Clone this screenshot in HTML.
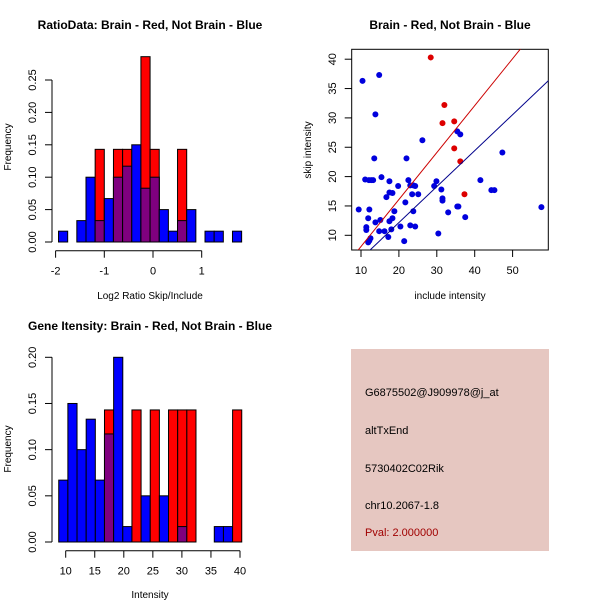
<!DOCTYPE html>
<html><head><meta charset="utf-8"><style>
html,body{margin:0;padding:0;background:#fff;width:600px;height:600px;overflow:hidden}
text{font-family:"Liberation Sans",sans-serif}
</style></head><body>
<svg id="chart" width="600" height="600" xmlns="http://www.w3.org/2000/svg">
<rect x="351" y="349" width="198" height="202" fill="#e6c7c1"/>
<text x="365" y="396" font-size="11">G6875502@J909978@j_at</text>
<text x="365" y="434" font-size="11">altTxEnd</text>
<text x="365" y="472" font-size="11">5730402C02Rik</text>
<text x="365" y="509" font-size="11">chr10.2067-1.8</text>
<text x="365" y="536" font-size="11" fill="#a00000">Pval: 2.000000</text>
</svg>
<script>
// Ratio histogram data
const ratioBlue=[0.0167,0,0.033,0.1,0.033,0.067,0.1,0.117,0.15,0.083,0.1,0.05,0.0167,0.033,0.05,0,0.0167,0.0167,0,0.0167];
const ratioRed=[0,0,0,0,0.143,0,0.143,0.143,0,0.286,0.143,0,0,0.143,0,0,0,0,0,0];
const ratioXTicks=[-2,-1,0,1];
const ratioYTicks=[0,0.05,0.1,0.15,0.2,0.25];
// Intensity histogram data
const intBlue=[0.067,0.15,0.1,0.133,0.067,0.117,0.2,0.0167,0,0.05,0,0.05,0,0.0167,0,0,0,0.0167,0.0167,0];
const intRed=[0,0,0,0,0,0.143,0,0,0.143,0,0.143,0,0.143,0.143,0.143,0,0,0,0,0.143];
const intXTicks=[10,15,20,25,30,35,40];
const intYTicks=[0,0.05,0.1,0.15,0.2];
// Scatter data
const redX=[28.4,32.0,31.5,34.6,34.6,36.2,37.3];
const redY=[40.3,32.2,29.1,29.4,24.8,22.6,17.0];
const blueX=[10.4,14.8,13.8,13.5,11.1,12.1,12.7,13.2,15.4,9.4,12.2,11.9,11.4,11.4,11.9,12.2,12.5,13.8,15.1,14.8,16.2,17.2,17.5,18.3,18.0,18.8,17.5,17.5,18.3,16.7,19.8,20.4,21.4,21.7,22.0,22.5,23.0,23.8,24.3,23.5,25.1,23.8,23.0,24.3,26.2,29.3,29.9,30.4,31.2,31.5,31.5,33.0,35.4,36.2,35.4,35.7,37.5,41.5,44.4,45.2,47.3,57.6];
const blueY=[36.3,37.3,30.6,23.1,19.5,19.4,19.4,19.4,19.9,14.4,14.4,12.9,11.4,10.9,8.8,9.1,9.5,12.2,12.6,10.7,10.7,9.7,12.4,12.9,11.0,14.1,19.2,17.3,17.2,16.5,18.4,11.5,9.0,15.6,23.1,19.4,18.5,18.5,18.4,17.0,17.0,14.1,11.7,11.5,26.2,18.4,19.2,10.3,17.8,16.3,15.9,13.9,27.7,27.2,14.9,14.9,13.1,19.4,17.7,17.7,24.1,14.8];
const scXTicks=[10,20,30,40,50];
const scYTicks=[10,15,20,25,30,35,40];
const redSlope=0.8, redIntercept=0.09, blueSlope=0.613, blueIntercept=-0.1;

const svg=document.getElementById('chart');
const NS='http://www.w3.org/2000/svg';
function mk(tag,at,txt){const e=document.createElementNS(NS,tag);for(const k in at)e.setAttribute(k,at[k]);if(txt!==undefined)e.textContent=txt;svg.appendChild(e);return e;}

function hist(o){
  const sx=v=>o.x0px+(v-o.x0)*o.kx, sy=v=>o.base-v*o.ky;
  const binW=o.binW;
  o.blue.forEach((b,i)=>{
    const r=o.red[i];const xl=sx(o.start+i*binW), w=binW*o.kx;
    if(b>0){const e=mk('rect',{x:xl,y:sy(b),width:w,height:b*o.ky,fill:'#0000ff',stroke:'#000','stroke-width':1});
      
      }
    if(r>0){const e=mk('rect',{x:xl,y:sy(r),width:w,height:r*o.ky,fill:'#ff0000',stroke:'#000','stroke-width':1});
      
      }
    const m=Math.min(b,r);
    if(m>0){const e=mk('rect',{x:xl,y:sy(m),width:w,height:m*o.ky,fill:'#7f007f',stroke:'#000','stroke-width':1});
      
      }
  });
  // y axis
  const ya=mk('line',{x1:o.yax,x2:o.yax,y1:sy(o.yt[0]),y2:sy(o.yt[o.yt.length-1]),stroke:'#000'});
  
  
  o.yt.forEach(t=>{mk('line',{x1:o.yax-7,x2:o.yax,y1:sy(t),y2:sy(t),stroke:'#000'});
    const tx=mk('text',{x:36,y:sy(t),'font-size':11,'text-anchor':'middle',transform:`rotate(-90 36 ${sy(t)})`},t.toFixed(2));
    
    });
  const xa=mk('line',{x1:sx(o.xt[0]),x2:sx(o.xt[o.xt.length-1]),y1:o.xay,y2:o.xay,stroke:'#000'});
  
  
  o.xt.forEach(t=>{mk('line',{x1:sx(t),x2:sx(t),y1:o.xay,y2:o.xay+7,stroke:'#000'});
    const tx=mk('text',{x:sx(t),y:o.xay+24,'font-size':11,'text-anchor':'middle'},String(t));
    
    });
}
hist({blue:ratioBlue,red:ratioRed,start:-1.94,binW:0.188,x0:0,x0px:153,kx:48.7,base:242,ky:648,yt:ratioYTicks,xt:ratioXTicks,yax:52,xay:250.7});
hist({blue:intBlue,red:intRed,start:8.8,binW:1.575,x0:10,x0px:65.7,kx:5.81,base:542,ky:923.5,yt:intYTicks,xt:intXTicks,yax:52,xay:550.7});

// scatter
const X=v=>361+(v-10)*3.79, Y=v=>235.3-(v-10)*5.87;
const bx=mk('rect',{x:351.7,y:49.3,width:196.6,height:200.7,fill:'none',stroke:'#000'});


mk('clipPath',{id:'cp'}).appendChild(Object.assign(document.createElementNS(NS,'rect'),{}));
const cp=svg.querySelector('#cp rect');cp.setAttribute('x',351.7);cp.setAttribute('y',49.3);cp.setAttribute('width',196.6);cp.setAttribute('height',200.7);
blueX.forEach((x,i)=>{const c=mk('circle',{cx:X(x),cy:Y(blueY[i]),r:3,fill:'#0000dd'});
  
  });
redX.forEach((x,i)=>{const c=mk('circle',{cx:X(x),cy:Y(redY[i]),r:3,fill:'#dd0000'});
  
  });
const rl=mk('line',{x1:X(0),y1:Y(redIntercept),x2:X(70),y2:Y(redIntercept+70*redSlope),stroke:'#cc0000','clip-path':'url(#cp)'});


const bl=mk('line',{x1:X(0),y1:Y(blueIntercept),x2:X(70),y2:Y(blueIntercept+70*blueSlope),stroke:'#00008b','clip-path':'url(#cp)'});


scXTicks.forEach(t=>{mk('line',{x1:X(t),x2:X(t),y1:250,y2:257,stroke:'#000'});
  const tx=mk('text',{x:X(t),y:274,'font-size':11,'text-anchor':'middle'},String(t));
  
  });
scYTicks.forEach(t=>{mk('line',{x1:344.7,x2:351.7,y1:Y(t),y2:Y(t),stroke:'#000'});
  const tx=mk('text',{x:336,y:Y(t),'font-size':11,'text-anchor':'middle',transform:`rotate(-90 336 ${Y(t)})`},String(t));
  
  });

function label(x,y,s,name,opts){const t=mk('text',Object.assign({x:x,y:y,'font-size':10,'text-anchor':'middle'},opts||{}),s);
  
  }
label(150,29,'RatioData: Brain - Red, Not Brain - Blue','ratio-title',{'font-size':12,'font-weight':'bold'});
label(450,29,'Brain - Red, Not Brain - Blue','scatter-title',{'font-size':12,'font-weight':'bold'});
label(150,330,'Gene Itensity: Brain - Red, Not Brain - Blue','intensity-title',{'font-size':12,'font-weight':'bold'});
label(150,299,'Log2 Ratio Skip/Include','ratio-x-axis-title');
label(450,299,'include intensity','scatter-x-axis-title');
label(150,598,'Intensity','intensity-x-axis-title');
label(11,147,'Frequency','ratio-y-axis-title',{transform:'rotate(-90 11 147)'});
label(11,449,'Frequency','intensity-y-axis-title',{transform:'rotate(-90 11 449)'});
label(311,150,'skip intensity','scatter-y-axis-title',{transform:'rotate(-90 311 150)'});
</script>
</body></html>
